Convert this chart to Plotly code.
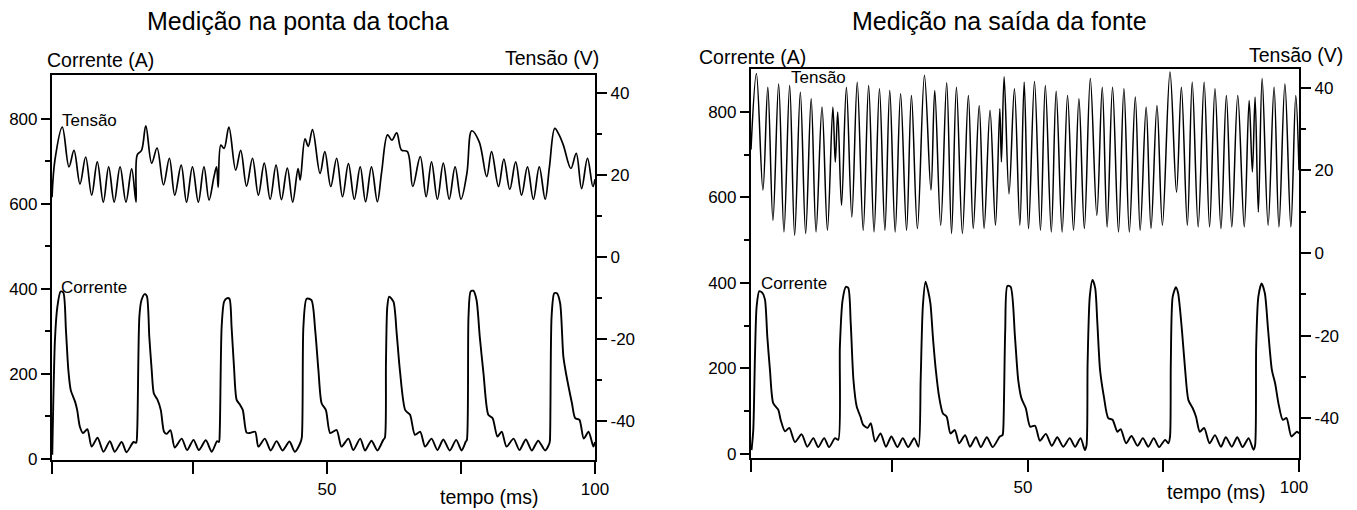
import plotly.graph_objects as go

# ---------------- Left chart: "Medição na ponta da tocha" ----------------
tocha_corrente_t = [
    -1.25, -0.75, -0.3, 0.3, 0.8, 1.3, 1.75, 2.2, 3.0, 3.4, 3.9, 4.5, 5.3, 6.1, 7.2, 8.3, 9.5, 10.4, 11.7, 12.6, 13.9, 14.4,
    14.6, 15.0, 15.4, 16.0, 16.4, 16.85, 17.3, 17.7, 18.35, 19.0, 19.6, 20.1, 20.8, 21.6, 22.9, 23.9, 25.1, 26.1, 27.4, 28.5, 29.5, 29.85,
    30.0, 30.35, 30.8, 31.3, 31.8, 32.2, 32.65, 33.15, 33.8, 34.3, 35.0, 35.6, 36.6, 37.2, 38.4, 39.5, 40.6, 41.7, 43.0, 44.0, 45.0,
    45.3, 45.6, 46.2, 47.1, 47.8, 48.4, 49.0, 49.8, 50.6, 51.8, 52.7, 54.0, 54.9, 56.2, 57.1, 58.3, 59.4, 60.5,
    60.8, 61.0, 61.25, 61.6, 62.4, 63.0, 63.6, 64.6, 65.5, 66.4, 67.4, 68.3, 69.5, 70.6, 71.7, 72.9, 74.1, 75.1, 75.9,
    76.1, 76.4, 76.8, 77.3, 77.9, 78.5, 79.2, 80.1, 80.9, 81.8, 82.6, 83.5, 84.8, 85.9, 87.1, 88.2, 89.4, 90.7, 91.5,
    91.6, 91.9, 92.4, 92.9, 93.5, 94.1, 94.7, 95.7, 96.3, 97.1, 97.9, 98.8, 99.7, 100.0,
]
tocha_corrente_A = [
    10, 280, 358, 394, 392, 303, 209, 162, 135, 115, 76, 61, 70, 29, 50, 17, 42, 17, 40, 16, 40, 38,
    68, 335, 374, 388, 383, 288, 209, 154, 140, 115, 64, 59, 68, 27, 48, 21, 45, 21, 44, 17, 42, 40,
    68, 311, 370, 378, 377, 311, 217, 139, 127, 115, 62, 61, 64, 29, 48, 20, 42, 20, 41, 17, 37,
    50, 311, 377, 374, 303, 209, 131, 115, 61, 68, 29, 48, 21, 48, 20, 43, 20, 45,
    50, 225, 358, 382, 370, 296, 209, 115, 104, 57, 64, 29, 48, 21, 46, 20, 45, 20, 41,
    45, 335, 394, 396, 374, 288, 201, 104, 96, 53, 64, 29, 48, 21, 46, 20, 43, 20, 37,
    45, 335, 390, 390, 366, 241, 194, 131, 96, 92, 48, 64, 29, 40,
]
tocha_tensao_t = [
    -1.3, -0.75, 0.62, 1.87, 2.8, 3.92, 4.98, 6.1, 7.15, 8.27, 9.27, 10.3, 11.4, 12.5, 13.56, 14.37,
    14.6, 15.4, 16.2, 17.3, 18.3, 19.5, 20.6, 21.6, 22.8, 23.8, 24.9, 26.0, 27.05, 28.0, 28.9, 29.4, 29.7,
    30.2, 30.8, 31.7, 32.97, 33.9, 35.0, 36.1, 37.2, 38.3, 39.4, 40.5, 41.5, 42.6, 43.6, 44.6, 45.0,
    45.9, 46.5, 47.3, 48.7, 49.6, 50.7, 51.8, 52.9, 54.0, 55.1, 56.2, 57.2, 58.3, 59.4, 60.2,
    61.3, 62.1, 63.0, 63.9, 65.0, 66.0, 67.4, 68.5, 69.5, 70.6, 71.7, 72.8, 73.9, 75.0, 76.1,
    77.0, 78.4, 79.8, 80.7, 82.0, 83.0, 84.1, 85.2, 86.3, 87.4, 88.5, 89.6, 90.7, 91.5,
    92.5, 93.3, 94.1, 95.5, 96.5, 97.5, 98.6, 99.6, 100.0,
]
tocha_tensao_V = [
    14.6, 23.7, 31.7, 22.0, 26.0, 17.8, 24.4, 15.1, 23.2, 13.4, 22.0, 13.4, 22.0, 13.4, 21.5, 13.4,
    24.9, 26.0, 32.0, 22.9, 26.6, 17.6, 24.1, 15.1, 22.4, 13.4, 22.0, 13.4, 22.0, 13.9, 19.5, 22.0, 17.0,
    27.3, 26.5, 31.7, 21.2, 26.0, 17.3, 24.1, 15.1, 22.9, 14.1, 22.4, 14.0, 21.7, 13.4, 21.6, 18.8,
    28.8, 27.0, 31.1, 20.4, 25.7, 17.2, 24.1, 14.7, 22.8, 14.1, 22.0, 13.5, 22.0, 13.5, 20.8,
    29.8, 28.5, 30.3, 26.1, 25.7, 17.2, 24.5, 14.7, 23.2, 14.1, 22.9, 14.1, 22.0, 14.1, 20.4,
    30.8, 28.1, 19.6, 25.7, 17.2, 23.9, 16.5, 23.2, 15.1, 22.0, 14.1, 22.0, 14.1, 22.0,
    31.4, 29.8, 27.3, 21.6, 25.3, 16.7, 24.1, 17.2, 19.0,
]

# ---------------- Right chart: "Medição na saída da fonte" ----------------
fonte_corrente_t = [
    -1.0, -0.68, -0.37, -0.06, 0.43, 1.05, 1.48, 1.91, 2.4, 3.0, 3.94, 4.37, 5.17, 5.97, 7.0, 8.24, 9.29, 10.4, 11.3, 12.4, 13.3, 14.4,
    15.0, 15.3, 15.8, 16.4, 16.85, 17.3, 17.8, 18.4, 19.1, 19.6, 20.4, 21.0, 21.8, 22.8, 23.8, 24.8, 25.9, 26.9, 27.9, 29.0, 29.8,
    30.2, 30.6, 31.1, 31.6, 32.0, 32.5, 33.0, 33.6, 34.3, 35.0, 35.7, 36.5, 37.3, 38.4, 39.3, 40.4, 41.3, 42.4, 43.5, 44.8, 45.3,
    45.45, 45.8, 46.2, 46.8, 47.6, 48.2, 48.8, 49.6, 50.4, 51.3, 52.2, 53.3, 54.4, 55.4, 56.5, 57.7, 58.7, 59.7, 60.5,
    60.8, 61.0, 61.4, 61.9, 62.4, 62.8, 63.3, 64.0, 64.8, 65.6, 66.5, 67.1, 68.1, 69.1, 70.2, 71.2, 72.2, 73.2, 74.2, 75.3, 75.9,
    76.2, 76.35, 76.7, 77.3, 77.7, 78.4, 79.0, 79.6, 80.4, 81.0, 81.7, 82.5, 83.5, 84.5, 85.6, 86.5, 87.6, 88.6, 89.6, 90.7, 91.6,
    91.9, 92.1, 92.5, 93.1, 93.7, 94.3, 95.0, 95.6, 96.2, 97.0, 97.7, 98.6, 99.6, 100.0,
]
fonte_corrente_A = [
    9, 56, 228, 345, 381, 376, 361, 274, 196, 119, 103, 80, 53, 61, 28, 46, 17, 37, 16, 37, 16, 37,
    33, 251, 360, 391, 388, 306, 173, 111, 87, 68, 61, 72, 29, 48, 17, 41, 16, 37, 16, 37, 17,
    173, 345, 403, 380, 352, 267, 196, 134, 95, 87, 48, 56, 25, 44, 17, 39, 16, 39, 16, 41, 44,
    60, 290, 393, 391, 274, 173, 130, 107, 64, 66, 31, 47, 19, 39, 17, 37, 17, 37, 9,
    20, 212, 368, 407, 388, 306, 196, 134, 84, 80, 52, 58, 25, 42, 19, 37, 17, 37, 16, 33, 25,
    40, 212, 368, 390, 376, 290, 196, 126, 107, 87, 52, 61, 25, 44, 17, 39, 17, 39, 16, 37, 10,
    20, 251, 368, 399, 376, 290, 196, 165, 119, 80, 84, 41, 52, 48,
]
fonte_tensao_t = [
    -1.1, -0.1, 1.1, 2.0, 2.95, 4.0, 4.98, 6.03, 6.95, 8.0, 8.98, 10.0, 10.9, 12.0, 13.0,
    14.0, 14.45, 14.9, 15.6, 16.5, 17.5, 18.5, 19.6, 20.6, 21.6, 22.6, 23.6, 24.5, 25.5, 26.5,
    27.6, 28.5, 29.6, 30.9, 32.1, 32.8, 33.9, 35.0, 35.9, 36.8, 37.9, 39.0, 39.9, 41.0, 41.9,
    43.0, 44.0, 44.8, 45.1, 45.6, 46.5, 47.5, 48.5, 49.3, 50.1, 51.2, 52.3, 53.2, 54.3, 55.2,
    56.3, 57.3, 58.4, 59.4, 60.4, 61.5, 62.7, 63.7, 64.6, 65.6, 66.7, 67.7, 68.7, 69.8, 70.7,
    71.8, 72.7, 73.8, 74.8, 76.2, 77.4, 78.3, 79.4, 80.3, 81.4, 82.5, 83.5, 84.5, 85.6, 86.6,
    87.6, 88.7, 89.9, 90.8, 91.4, 91.9, 92.5, 93.2, 94.3, 95.4, 96.3, 97.4, 98.5, 99.4, 100.0,
]
fonte_tensao_V = [
    25.0, 43.4, 15.2, 40.1, 7.9, 40.9, 5.1, 40.5, 4.3, 38.9, 4.7, 37.3, 5.1, 35.3, 5.5,
    35.3, 22.0, 34.1, 11.5, 40.1, 8.7, 41.3, 5.5, 40.5, 5.1, 39.7, 5.5, 39.3, 5.1, 38.5,
    5.5, 38.1, 5.9, 43.0, 15.2, 39.3, 6.7, 41.2, 4.7, 40.1, 4.7, 38.1, 5.9, 35.7, 5.9,
    34.5, 6.7, 34.9, 22.0, 42.6, 14.3, 39.7, 6.7, 41.3, 5.9, 41.5, 5.5, 40.5, 5.1, 39.1,
    5.1, 38.1, 5.5, 37.3, 5.9, 42.2, 9.1, 40.1, 6.3, 40.1, 5.1, 39.7, 5.1, 37.7, 5.5,
    35.3, 5.9, 35.7, 6.7, 43.8, 14.7, 40.1, 6.7, 41.3, 6.3, 41.3, 6.3, 39.7, 5.9, 38.1,
    6.3, 38.1, 6.3, 36.9, 19.6, 37.7, 9.9, 42.2, 6.7, 40.1, 6.3, 40.9, 6.3, 38.1, 20.0,
]

assert len(tocha_corrente_t) == len(tocha_corrente_A)
assert len(tocha_tensao_t) == len(tocha_tensao_V)
assert len(fonte_corrente_t) == len(fonte_corrente_A)
assert len(fonte_tensao_t) == len(fonte_tensao_V)

titulos = ["Medição na ponta da tocha", "Medição na saída da fonte"]
x_ticktext = ["", "", "50", "", "100"]
corrente_ticks = [0, 200, 400, 600, 800]
corrente_minor = [100, 300, 500, 700]
tensao_ticks = [-40, -20, 0, 20, 40]
tensao_ticktext = ["-40", "-20", "0", "20", "40"]
tensao_minor = [-30, -10, 10, 30]

# page body has an 8 px margin; figure is sized so the page is exactly 1357x510
OFF = 8
W, H = 1357 - OFF, 510 - OFF
FONT = "Arial, 'Liberation Sans', sans-serif"


def px(x):
    return (x - OFF) / W


def py(y):
    return 1 - (y - OFF) / H


fig = go.Figure()
fig.add_trace(go.Scatter(x=tocha_corrente_t, y=tocha_corrente_A, xaxis="x", yaxis="y",
                         mode="lines", line=dict(color="black", width=1.9, shape="spline", smoothing=0.7)))
fig.add_trace(go.Scatter(x=tocha_tensao_t, y=tocha_tensao_V, xaxis="x", yaxis="y2",
                         mode="lines", line=dict(color="black", width=1.7, shape="spline", smoothing=1.0)))
fig.add_trace(go.Scatter(x=fonte_corrente_t, y=fonte_corrente_A, xaxis="x2", yaxis="y3",
                         mode="lines", line=dict(color="black", width=1.9, shape="spline", smoothing=0.7)))
fig.add_trace(go.Scatter(x=fonte_tensao_t, y=fonte_tensao_V, xaxis="x2", yaxis="y4",
                         mode="lines", line=dict(color="black", width=1.5, shape="spline", smoothing=1.0)))

common_axis = dict(showline=True, linecolor="black", linewidth=2.2, showgrid=False, zeroline=False,
                   ticks="outside", tickcolor="black", tickwidth=2,
                   tickfont=dict(family=FONT, size=17, color="black"))


def xax(domain, rng, anchor, shift=0):
    return dict(common_axis, domain=domain, range=rng, anchor=anchor, mirror=True,
                tickmode="array", tickvals=[rng[0], 25, 50, 75, 100], ticktext=x_ticktext,
                ticklen=12, ticklabelshift=shift)


def yleft(domain, rng, anchor):
    return dict(common_axis, domain=domain, range=rng, anchor=anchor,
                tickmode="array", tickvals=corrente_ticks, ticktext=[str(v) for v in corrente_ticks],
                ticklen=9,
                minor=dict(tickmode="array", tickvals=corrente_minor, ticks="outside", ticklen=5,
                           tickcolor="black", tickwidth=1.5))


def yright(rng, anchor, overlay):
    return dict(common_axis, range=rng, anchor=anchor, overlaying=overlay, side="right",
                tickmode="array", tickvals=tensao_ticks, ticktext=tensao_ticktext, ticklen=10,
                minor=dict(tickmode="array", tickvals=tensao_minor, ticks="outside", ticklen=5,
                           tickcolor="black", tickwidth=1.5))


fig.update_layout(
    width=W, height=H, autosize=False,
    margin=dict(l=0, r=0, t=0, b=0, autoexpand=False),
    paper_bgcolor="white", plot_bgcolor="white",
    showlegend=False,
    font=dict(family=FONT, color="black"),
    xaxis=xax([px(52), px(595)], [-1.3, 100], "y"),
    yaxis=yleft([py(460), py(75)], [-2.4, 903.5], "x"),
    yaxis2=yright([-49.5, 44.4], "x", "y"),
    xaxis2=xax([px(751), px(1299)], [-1.1, 100], "y3", shift=-5),
    yaxis3=yleft([py(458), py(69)], [-9.4, 900.5], "x2"),
    yaxis4=yright([-49.6, 44.5], "x2", "y3"),
)


def label(text, x, y, size, xanchor="left"):
    # annotation boxes add ~3 px of padding around the text
    dx = {"left": -3, "right": 3, "center": 0}[xanchor]
    fig.add_annotation(text=text, x=px(x + dx), y=py(y), xref="paper", yref="paper",
                       xanchor=xanchor, yanchor="middle", showarrow=False,
                       font=dict(family=FONT, size=size, color="black"))


label(titulos[0], 298, 21, 25, "center")
label(titulos[1], 999, 21, 25, "center")
label("Corrente (A)", 48, 60, 19.5)
label("Tensão (V)", 598, 58, 19.5, "right")
label("Corrente (A)", 700, 57, 19.5)
label("Tensão (V)", 1342, 55, 19.5, "right")
label("Tensão", 63, 120, 17)
label("Corrente", 62, 287, 17)
label("Tensão", 792, 77, 17)
label("Corrente", 762, 283, 17)
label("tempo (ms)", 489, 497, 19.5, "center")
label("tempo (ms)", 1216, 492, 19.5, "center")

fig.write_html("out.html")
